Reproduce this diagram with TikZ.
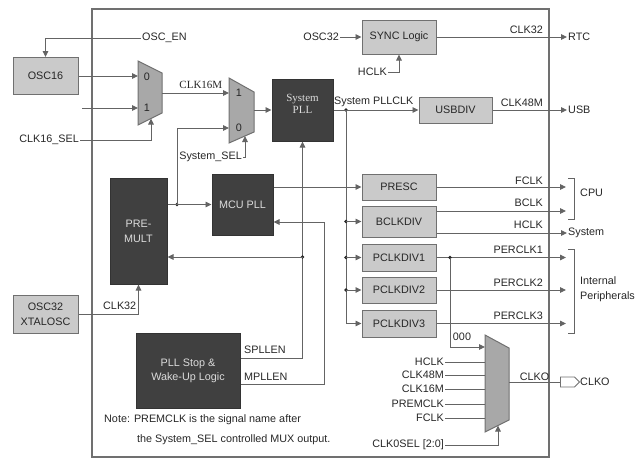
\documentclass[tikz,border=0pt]{standalone}
\usepackage{fontspec}
\setmainfont{Liberation Sans}
\newfontfamily\timesfont{Liberation Serif}
\usepackage{tikz}
\usetikzlibrary{arrows.meta, shapes.symbols}
\definecolor{boxgray}{RGB}{202, 202, 202}
\definecolor{edgegray}{RGB}{112, 112, 112}
\definecolor{darkfill}{RGB}{64, 64, 64}
\definecolor{muxgray}{RGB}{168, 168, 168}
\definecolor{wiregray}{RGB}{100, 100, 100}
\definecolor{inkgray}{RGB}{38, 38, 38}
\definecolor{paletext}{RGB}{220, 220, 220}

\begin{document}
\begin{tikzpicture}[x=1pt, y=-1pt,
  font=\fontsize{10.8}{12}\selectfont, text=inkgray,
  lightbox/.style={draw=edgegray, fill=boxgray, line width=1pt},
  darkbox/.style={draw=black!80, fill=darkfill, text=paletext, line width=1pt, align=center},
  muxbody/.style={draw=edgegray, fill=muxgray, line width=1pt},
  wire/.style={draw=wiregray, line width=0.9pt},
  sig/.style={wire, -{Triangle[length=6pt, width=5.5pt]}},
  junct/.style={circle, fill=inkgray, inner sep=0pt, minimum size=3.8pt},
  lbl/.style={inner sep=1pt},
  timeslbl/.style={inner sep=1pt, font=\timesfont\fontsize{11}{12}\selectfont}
]
  \useasboundingbox (0,0) rectangle (638,461);
  \draw[edgegray, line width=1.2pt] (92,9) rectangle (549,457);

  \node[lightbox, minimum width=65pt, minimum height=37pt] (osc16) at (45.5,76) {OSC16};
  \node[lightbox, minimum width=65pt, minimum height=38pt, align=center] (xtalosc) at (45.5,314) {OSC32\\[3pt]XTALOSC};
  \node[lightbox, minimum width=74pt, minimum height=34pt] (sync) at (399,37) {SYNC Logic};
  \node[lightbox, minimum width=73pt, minimum height=26pt] (usbdiv) at (455.5,110) {USBDIV};
  \node[lightbox, minimum width=74pt, minimum height=26pt] (presc) at (399,187) {PRESC};
  \node[lightbox, minimum width=74pt, minimum height=31pt] (bclkdiv) at (399,221.5) {BCLKDIV};
  \node[lightbox, minimum width=74pt, minimum height=27pt] (pclkdiv1) at (399,257.5) {PCLKDIV1};
  \node[lightbox, minimum width=74pt, minimum height=26pt] (pclkdiv2) at (399,290) {PCLKDIV2};
  \node[lightbox, minimum width=74pt, minimum height=27pt] (pclkdiv3) at (399,323.5) {PCLKDIV3};

  \node[darkbox, minimum width=61pt, minimum height=62pt] (syspll) at (302.5,110) {};
  \node[timeslbl, text=paletext, align=center] (sysplltext) at (302.5,104) {System\\PLL};
  \node[darkbox, minimum width=61pt, minimum height=61pt] (mcupll) at (242.5,204.5) {MCU PLL};
  \node[darkbox, minimum width=57pt, minimum height=106pt] (premult) at (138.5,231) {PRE-\\[3pt]MULT};
  \node[darkbox, minimum width=104pt, minimum height=75pt] (pllstop) at (188,370.5) {PLL Stop \&\\[2pt]Wake-Up Logic};

  \draw[muxbody] (138,61) -- (162,73) -- (162,113) -- (138,125) -- cycle;
  \draw[muxbody] (229,78) -- (254,92) -- (254,132) -- (229,143) -- cycle;
  \draw[muxbody] (485,335) -- (509,348) -- (509,420) -- (485,432) -- cycle;
  \coordinate (mux1in0) at (138,76);
  \coordinate (mux1in1) at (138,108);
  \coordinate (mux1sel) at (151,118.5);
  \coordinate (mux1out) at (162,93);
  \coordinate (mux2in1) at (229,93);
  \coordinate (mux2in0) at (229,128);
  \coordinate (mux2sel) at (245,136);
  \coordinate (mux2out) at (254,110);
  \coordinate (mux3in0) at (485,347);
  \coordinate (mux3left) at (485,382);
  \coordinate (mux3sel) at (498,425.5);
  \coordinate (mux3out) at (509,382);
  \node (mux1zero) at (147,77) {0};
  \node (mux1one) at (147,108) {1};
  \node (mux2one) at (239,93) {1};
  \node (mux2zero) at (239,128) {0};

  \node[lbl, anchor=west] (oscen) at (141,38) {OSC\_EN};
  \node[lbl, anchor=east] (clk16sel) at (80,140) {CLK16\_SEL};
  \coordinate (clk16in) at (82,108);
  \node[lbl, anchor=east] (syssel) at (243,157) {System\_SEL};
  \node[lbl, anchor=east] (osc32) at (340,37) {OSC32};
  \node[lbl, anchor=east] (hclksync) at (388,72) {HCLK};
  \draw[sig] (oscen.west) -| (osc16.north);
  \draw[sig] (osc16.east) -- (mux1in0);
  \draw[sig] (clk16in) -- (mux1in1);
  \draw[sig] (clk16sel.east) -| (mux1sel);
  \draw[sig] (mux1out) -- (mux2in1) node[timeslbl, pos=0.58, above=3pt] (clk16m) {CLK16M};
  \draw[sig] (syssel.east) -| (mux2sel);
  \draw[sig] (mux2out) -- (syspll.west);
  \draw[sig] (osc32.east) -- (sync.west);
  \draw[sig] (hclksync.east) -| (sync.south);

  \node[junct] (jprem) at (177,204.5) {};
  \draw[sig] (premult.east |- mcupll.west) -- (mcupll.west);
  \draw[sig] (jprem.center) |- (mux2in0);
  \draw[sig] (mcupll.east |- presc.west) -- (presc.west);
  \node[junct] (jsys) at (346,110) {};
  \draw[sig] (syspll.east) -- (usbdiv.west);
  \node[lbl, anchor=south west] (pllclk) at (333,108) {System PLLCLK};
  \draw[sig] (jsys.center) |- (pclkdiv3.west);
  \node[junct] (jbclk) at (346,221.5) {};
  \node[junct] (jpclk1) at (346,257.5) {};
  \node[junct] (jpclk2) at (346,290) {};
  \draw[sig] (jbclk.center) -- (bclkdiv.west);
  \draw[sig] (jpclk1.center) -- (pclkdiv1.west);
  \draw[sig] (jpclk2.center) -- (pclkdiv2.west);
  \draw[sig] ([yshift=12.5pt]pllstop.east) -| (syspll.south);
  \node[junct] (jspll) at (302.5,257) {};
  \draw[sig] (jspll.center) -- (jspll.center -| premult.east);
  \coordinate (mpllturn) at (324,222);
  \draw[sig] ([yshift=-13.5pt]pllstop.east) -| (mpllturn) -- (mpllturn -| mcupll.east);
  \node[lbl, anchor=south west] (spllen) at (243,355) {SPLLEN};
  \node[lbl, anchor=south west] (mpllen) at (243,381.5) {MPLLEN};
  \draw[sig] (xtalosc.east) -| (premult.south);
  \node[lbl, anchor=south west] (clk32in) at (102,311) {CLK32};

  \node[lbl, anchor=west] (rtc) at (567,37) {RTC};
  \node[lbl, anchor=west] (usb) at (567,110) {USB};
  \node[lbl, anchor=west] (systemout) at (567,233) {System};
  \node[lbl, anchor=west] (cpu) at (579,193) {CPU};
  \node[lbl, anchor=west, align=left] (intper) at (579,289) {Internal\\[3pt]Peripherals};
  \coordinate (fclkend) at (566,187);
  \coordinate (bclkend) at (566,211);
  \coordinate (per1end) at (566,257.5);
  \coordinate (per2end) at (566,290);
  \coordinate (per3end) at (566,323.5);
  \draw[sig] (sync.east) -- (rtc.west);
  \draw[sig] (usbdiv.east) -- (usb.west);
  \draw[sig] (presc.east) -- (fclkend);
  \draw[sig] (bclkdiv.east |- bclkend) -- (bclkend);
  \draw[sig] (bclkdiv.east |- systemout.west) -- (systemout.west);
  \draw[sig] (pclkdiv1.east) -- (per1end);
  \draw[sig] (pclkdiv2.east) -- (per2end);
  \draw[sig] (pclkdiv3.east) -- (per3end);
  \draw[wire] (568,178) -| (574,219) -- (568,219);
  \draw[wire] (568,249) -| (574,333) -- (568,333);
  \node[lbl, anchor=south east] (clk32out) at (544,35) {CLK32};
  \node[lbl, anchor=south east] (clk48m) at (544,107.5) {CLK48M};
  \node[lbl, anchor=south east] (fclk) at (544,186) {FCLK};
  \node[lbl, anchor=south east] (bclk) at (544,208) {BCLK};
  \node[lbl, anchor=south east] (hclk) at (544,230) {HCLK};
  \node[lbl, anchor=south east] (perclk1) at (544,254.5) {PERCLK1};
  \node[lbl, anchor=south east] (perclk2) at (544,288) {PERCLK2};
  \node[lbl, anchor=south east] (perclk3) at (544,320.5) {PERCLK3};

  \node[junct] (jper) at (450,257.5) {};
  \draw[sig] (jper.center) |- (mux3in0);
  \node[lbl, anchor=south] (zeros) at (462,342) {000};
  \node[lbl, anchor=east] (hclkmux) at (445,362) {HCLK};
  \node[lbl, anchor=east] (clk48mux) at (445,375) {CLK48M};
  \node[lbl, anchor=east] (clk16mux) at (445,389) {CLK16M};
  \node[lbl, anchor=east] (premclk) at (445,404) {PREMCLK};
  \node[lbl, anchor=east] (fclkmux) at (445,418) {FCLK};
  \draw[wire] (hclkmux.east) -- (hclkmux.east -| mux3left);
  \draw[wire] (clk48mux.east) -- (clk48mux.east -| mux3left);
  \draw[wire] (clk16mux.east) -- (clk16mux.east -| mux3left);
  \draw[wire] (premclk.east) -- (premclk.east -| mux3left);
  \draw[wire] (fclkmux.east) -- (fclkmux.east -| mux3left);
  \node[lbl, anchor=east] (clkosel) at (445,445) {CLK0SEL [2:0]};
  \draw[sig] (clkosel.east) -| (mux3sel);
  \node[signal, signal to=east, draw=edgegray, fill=white, line width=0.9pt, minimum width=19pt, minimum height=10pt, inner sep=0pt] (clkoport) at (567.5,382) {};
  \draw[wire] (mux3out) -- (clkoport.west) node[lbl, midway, above] (clkomux) {CLKO};
  \node[lbl, anchor=west] (clkoname) at (579,382) {CLKO};

  \node[lbl, anchor=west] (note1) at (103,420) {Note: PREMCLK is the signal name after};
  \node[lbl, anchor=west] (note2) at (136,440) {the System\_SEL controlled MUX output.};
\end{tikzpicture}
\end{document}
